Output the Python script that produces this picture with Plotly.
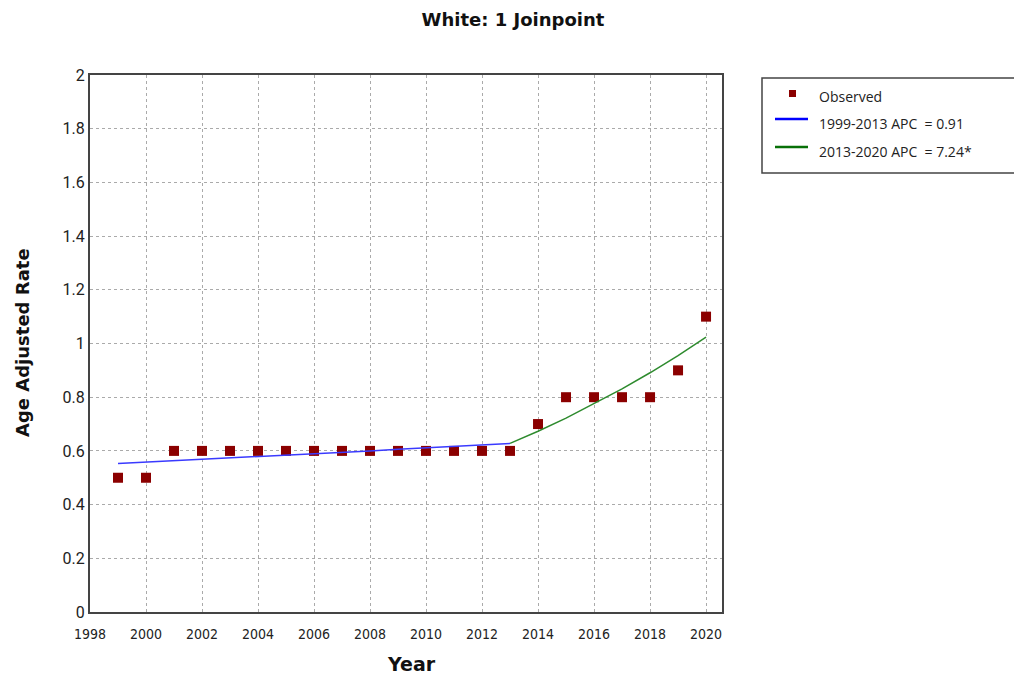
import plotly.graph_objects as go

years = list(range(1999, 2021))
observed = [0.5, 0.5, 0.6, 0.6, 0.6, 0.6, 0.6, 0.6, 0.6, 0.6, 0.6, 0.6, 0.6, 0.6, 0.6,
            0.7, 0.8, 0.8, 0.8, 0.8, 0.9, 1.1]

seg1_years = list(range(1999, 2014))
seg1_fit = [0.553, 0.558, 0.563, 0.568, 0.573, 0.579, 0.584, 0.589, 0.595, 0.600,
            0.606, 0.611, 0.617, 0.622, 0.628]
seg2_years = list(range(2013, 2021))
seg2_fit = [0.628, 0.673, 0.722, 0.775, 0.831, 0.891, 0.955, 1.024]

x_ticks = list(range(1998, 2021, 2))
y_ticks = [0, 0.2, 0.4, 0.6, 0.8, 1, 1.2, 1.4, 1.6, 1.8, 2]
y_tick_labels = ["0", "0.2", "0.4", "0.6", "0.8", "1", "1.2", "1.4", "1.6", "1.8", "2"]

legend_labels = ["Observed", "1999-2013 APC  = 0.91", "2013-2020 APC  = 7.24*"]
marker_color = "#8b0000"
line_colors = ["#3a3aff", "#2e8b2e"]
legend_line_colors = ["#0000ff", "#087008"]

# layout geometry (figure pixels)
L, R, T, B = 82, 308, 67, 73
W, H = 1022, 677
PW, PH = W - L - R, H - T - B


def px(fx):
    return (fx - L) / PW


def py(fy):
    return (H - B - fy) / PH


fig = go.Figure()
fig.add_trace(go.Scatter(x=years, y=observed, mode="markers", name=legend_labels[0],
                         marker=dict(symbol="square", size=10, color=marker_color)))
fig.add_trace(go.Scatter(x=seg1_years, y=seg1_fit, mode="lines", name=legend_labels[1],
                         line=dict(color=line_colors[0], width=1.5)))
fig.add_trace(go.Scatter(x=seg2_years, y=seg2_fit, mode="lines", name=legend_labels[2],
                         line=dict(color=line_colors[1], width=1.5)))

# custom legend (box, symbols, labels)
shapes = [
    dict(type="rect", xref="paper", yref="paper", x0=px(754), x1=px(1010), y0=py(70), y1=py(165),
         line=dict(color="#444", width=1.5), fillcolor="white", layer="above"),
    dict(type="rect", xref="paper", yref="paper", x0=px(781), x1=px(788), y0=py(82), y1=py(89),
         line=dict(width=0), fillcolor=marker_color, layer="above"),
    dict(type="line", xref="paper", yref="paper", x0=px(767), x1=px(800), y0=py(111), y1=py(111),
         line=dict(color=legend_line_colors[0], width=2.5), layer="above"),
    dict(type="line", xref="paper", yref="paper", x0=px(767), x1=px(800), y0=py(139), y1=py(139),
         line=dict(color=legend_line_colors[1], width=2.5), layer="above"),
]
annotations = []
for label, fy in zip(legend_labels, [89, 116, 143]):
    annotations.append(dict(text=label, xref="paper", yref="paper", x=px(809), y=py(fy),
                            xanchor="left", yanchor="middle", showarrow=False,
                            font=dict(family="Open Sans", size=14, color="#222")))

# axis titles
annotations.append(dict(text="<b>Year</b>", xref="paper", yref="paper", x=px(403), y=py(656),
                        xanchor="center", yanchor="middle", showarrow=False,
                        font=dict(family="DejaVu Sans", size=19, color="#111")))
annotations.append(dict(text="<b>Age Adjusted Rate</b>", xref="paper", yref="paper", x=px(14), y=py(335),
                        xanchor="center", yanchor="middle", showarrow=False, textangle=-90,
                        font=dict(family="DejaVu Sans", size=18, color="#111")))

fig.update_layout(
    width=W, height=H,
    margin=dict(l=L, r=R, t=T, b=B),
    paper_bgcolor="white", plot_bgcolor="white",
    title=dict(text="<b>White: 1 Joinpoint</b>", x=505 / W, xanchor="center", xref="container",
               y=0.982, yanchor="middle", yref="container",
               font=dict(family="DejaVu Sans", size=18, color="#111")),
    showlegend=False,
    shapes=shapes,
    annotations=annotations,
    font=dict(family="DejaVu Sans Condensed", size=14, color="#222"),
)
fig.update_xaxes(range=[1998, 2020.57], tickmode="array", tickvals=x_ticks,
                 showgrid=True, gridcolor="#aaa", griddash="dot", gridwidth=1,
                 showline=True, linecolor="#444", linewidth=2, mirror=True, ticks="",
                 zeroline=False, ticklabelstandoff=8, automargin=False,
                 tickfont=dict(family="DejaVu Sans Condensed", size=14, color="#222"))
fig.update_yaxes(range=[0, 2], tickmode="array", tickvals=y_ticks, ticktext=y_tick_labels,
                 showgrid=True, gridcolor="#aaa", griddash="dot", gridwidth=1,
                 showline=True, linecolor="#444", linewidth=2, mirror=True, ticks="",
                 zeroline=False, automargin=False,
                 tickfont=dict(family="Roboto", size=16, color="#222"))

fig.write_html("out.html")
